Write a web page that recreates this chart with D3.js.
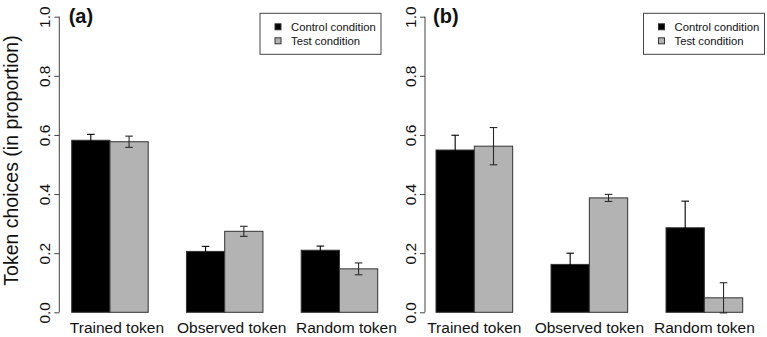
<!DOCTYPE html>
<html lang="en">
<head>
    <title>Token choices</title>
    <script src='https://d3js.org/d3.v7.min.js'></script>
    <style>
        body { margin: 0; background: #fff; }
        text { font-family: "Liberation Sans", Arial, Helvetica, sans-serif; }
    </style>
</head>
<body>
    <script>
        var width = 767, height = 337;

        // data
        var categories = ["Trained token", "Observed token", "Random token"];
        var seriesNames = ["Control condition", "Test condition"];
        var yTicks = [0, 0.2, 0.4, 0.6, 0.8, 1.0];

        var controlA = [0.582, 0.206, 0.210];
        var controlErrA = [0.020, 0.017, 0.014];
        var testA = [0.577, 0.274, 0.147];
        var testErrA = [0.019, 0.017, 0.020];

        var controlB = [0.549, 0.162, 0.286];
        var controlErrB = [0.050, 0.038, 0.090];
        var testB = [0.562, 0.387, 0.049];
        var testErrB = [0.063, 0.012, 0.051];

        var colors = ["#000000", "#b3b3b3"];

        var svg = d3.select('body')
            .append('svg')
            .attr('width', width)
            .attr('height', height);

        var y = d3.scaleLinear().domain([0, 1]).range([312.3, 16.7]);

        // one panel per figure half
        var panels = [
            {label: "(a)", left: 71.7, right: 377.7, axisX: 59.3, labelShift: 7, legendX: 260,
             ctrl: controlA, ctrlErr: controlErrA, test: testA, testErr: testErrA},
            {label: "(b)", left: 436, right: 742.7, axisX: 425, labelShift: 0, legendX: 643.5,
             ctrl: controlB, ctrlErr: controlErrB, test: testB, testErr: testErrB}
        ];

        panels.forEach(function(p) {
            var g = svg.append('g');

            // bar units like barplot(beside=TRUE, space=c(0,1))
            var x = d3.scaleLinear().domain([1, 9]).range([p.left, p.right]);

            var bars = [];
            categories.forEach(function(c, i) {
                var start = 1 + i * 3;
                bars.push({x0: start, v: p.ctrl[i], e: p.ctrlErr[i], s: 0});
                bars.push({x0: start + 1, v: p.test[i], e: p.testErr[i], s: 1});
            });

            g.selectAll('rect.bar')
                .data(bars)
                .join('rect')
                .attr('class', 'bar')
                .attr('x', function(d) { return x(d.x0); })
                .attr('width', function(d) { return x(d.x0 + 1) - x(d.x0); })
                .attr('y', function(d) { return y(d.v); })
                .attr('height', function(d) { return y(0) - y(d.v); })
                .style('fill', function(d) { return colors[d.s]; })
                .style('stroke', '#333')
                .style('stroke-width', 1);

            // error bars (black, so the part over a black bar disappears)
            var capW = 3.8;
            var eb = g.selectAll('g.err')
                .data(bars)
                .join('g')
                .attr('class', 'err')
                .style('stroke', function(d) { return d.s === 0 ? '#000' : '#2a2a2a'; })
                .style('stroke-width', 1.1);
            eb.append('line')
                .attr('x1', function(d) { return x(d.x0 + 0.5); })
                .attr('x2', function(d) { return x(d.x0 + 0.5); })
                .attr('y1', function(d) { return y(d.v - d.e); })
                .attr('y2', function(d) { return y(d.v + d.e); });
            eb.append('line')
                .attr('x1', function(d) { return x(d.x0 + 0.5) - capW; })
                .attr('x2', function(d) { return x(d.x0 + 0.5) + capW; })
                .attr('y1', function(d) { return y(d.v + d.e); })
                .attr('y2', function(d) { return y(d.v + d.e); });
            eb.append('line')
                .attr('x1', function(d) { return x(d.x0 + 0.5) - capW; })
                .attr('x2', function(d) { return x(d.x0 + 0.5) + capW; })
                .attr('y1', function(d) { return y(d.v - d.e); })
                .attr('y2', function(d) { return y(d.v - d.e); });

            // y axis, R style with rotated labels
            var axis = g.append('g')
                .attr('transform', 'translate(' + p.axisX + ',0)')
                .call(d3.axisLeft(y).tickValues(yTicks).tickFormat(d3.format('.1f')).tickSize(5).tickPadding(4));
            axis.select('.domain').attr('d', 'M0,' + y(0) + 'V' + y(1)).style('stroke', '#444');
            axis.selectAll('.tick line').style('stroke', '#444');
            axis.selectAll('.tick text')
                .attr('x', null).attr('dy', null)
                .attr('transform', 'translate(-9,0) rotate(-90)')
                .attr('text-anchor', 'middle')
                .style('font-size', '15.5px')
                .style('fill', '#111');

            // category labels
            g.selectAll('text.cat')
                .data(categories)
                .join('text')
                .attr('class', 'cat')
                .attr('x', function(d, i) { return x(2 + i * 3) + p.labelShift; })
                .attr('y', 333)
                .attr('text-anchor', 'middle')
                .style('font-size', '15.5px')
                .style('fill', '#111')
                .text(function(d) { return d; });

            // panel label
            g.append('text')
                .attr('x', x(1) - 3)
                .attr('y', 23)
                .style('font-size', '20px')
                .style('font-weight', 'bold')
                .style('fill', '#111')
                .text(p.label);

            // legend
            var lg = g.append('g').attr('transform', 'translate(' + p.legendX + ',13.3)');
            lg.append('rect')
                .attr('width', 121).attr('height', 41)
                .style('fill', '#fff').style('stroke', '#444').style('stroke-width', 1);
            seriesNames.forEach(function(s, i) {
                lg.append('rect')
                    .attr('x', 15).attr('y', 10.5 + i * 14)
                    .attr('width', 6).attr('height', 6)
                    .style('fill', colors[i]).style('stroke', '#333');
                lg.append('text')
                    .attr('x', 31).attr('y', 17.5 + i * 14)
                    .style('font-size', '11.3px')
                    .style('fill', '#111')
                    .text(s);
            });
        });

        // shared y title
        svg.append('text')
            .attr('transform', 'translate(17.5,' + ((y(0) + y(1)) / 2 - 4) + ') rotate(-90)')
            .attr('text-anchor', 'middle')
            .style('font-size', '19.5px')
            .style('fill', '#111')
            .text('Token choices (in proportion)');
    </script>
</body>
</html>
